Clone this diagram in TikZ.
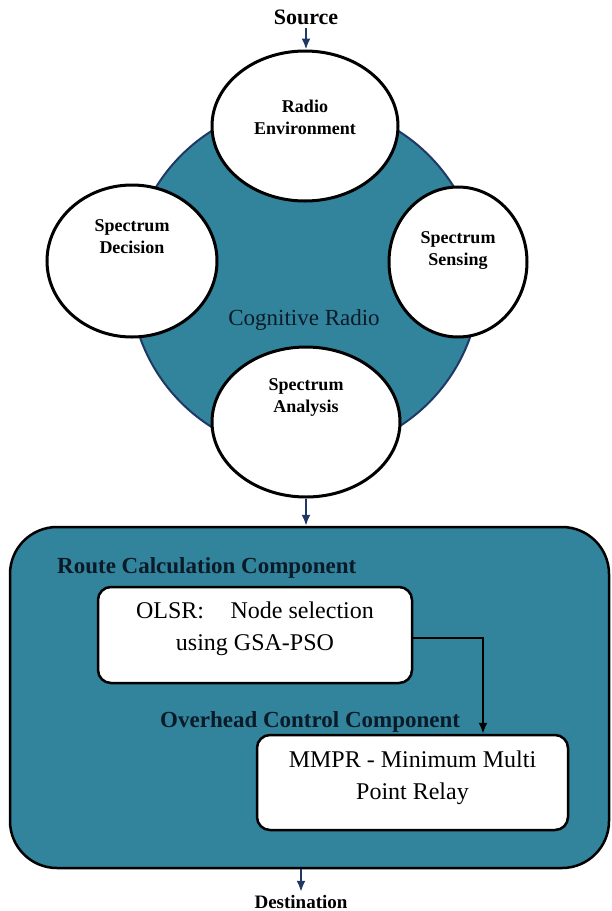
\documentclass[tikz,border=0pt]{standalone}
\usepackage{fontspec}
\setmainfont{Liberation Serif}
\usepackage{tikz}
\usetikzlibrary{shapes,arrows.meta,positioning,calc}
\definecolor{crteal}{HTML}{31849B}
\definecolor{crnavy}{HTML}{1F3864}
\definecolor{crdark}{HTML}{0B1A28}
\tikzstyle{stage} = [ellipse, draw=black, line width=3pt, fill=white, inner sep=0pt]
\tikzstyle{stagetext} = [align=center, font=\fontsize{18}{22}\selectfont\bfseries]
\tikzstyle{block} = [rectangle, draw=black, line width=2.5pt, rounded corners=13pt,
    fill=white, align=center, inner sep=0pt, font=\fontsize{24}{32}\selectfont]
\tikzstyle{heading} = [anchor=base west, inner sep=0pt, font=\fontsize{23}{28}\selectfont\bfseries, text=crdark]
\tikzstyle{arrow} = [-{Latex[length=11pt,width=9pt]}, line width=2pt, crnavy]

\begin{document}
\begin{tikzpicture}[x=1pt,y=-1pt]
\useasboundingbox (0,0) rectangle (611,911);
% cognitive radio cycle
\node[circle, draw=crnavy, line width=2pt, fill=crteal, minimum size=350pt] (cr) at (305,279) {};
\node[font=\fontsize{23}{28}\selectfont, text=crdark] (crlabel) at (304,320) {Cognitive Radio};

\node[stage, minimum width=186pt, minimum height=150pt] (env) at (305,126) {};
\node[stage, minimum width=170pt, minimum height=152pt] (dec) at (132,261) {};
\node[stage, minimum width=138pt, minimum height=150pt] (sen) at (458,262) {};
\node[stage, minimum width=188pt, minimum height=150pt] (ana) at (306,422) {};

\node[stagetext] (envtext) at ($(env)+(0,-8.5)$) {Radio\\Environment};
\node[stagetext] (dectext) at ($(dec)+(0,-24.5)$) {Spectrum\\Decision};
\node[stagetext] (sentext) at ($(sen)+(0,-11)$) {Spectrum\\Sensing};
\node[stagetext] (anatext) at ($(ana)+(0,-24.5)$) {Spectrum\\Analysis};

\node[font=\fontsize{22}{26}\selectfont\bfseries] (src) at (306,17) {Source};
\draw[arrow] (src.south) -- (src.south |- env.north);

% routing part
\node[rectangle, draw=black, line width=2.5pt, rounded corners=47pt, fill=crteal,
    minimum width=599pt, minimum height=341pt] (rcc) at (309.5,697.5) {};
\draw[arrow] (ana.south) -- (ana.south |- rcc.north);

\node[heading] (rcctitle) at (57,573) {Route Calculation Component};
\node[block, minimum width=314pt, minimum height=96pt] (olsr) at (255,635)
    {OLSR:\hspace{1.1em}Node selection\\using GSA-PSO\rule[-17pt]{0pt}{0pt}};

\node[heading] (occtitle) at (160,727) {Overhead Control Component};
\node[block, minimum width=311pt, minimum height=95pt] (mmpr) at (412.5,782.5)
    {MMPR - Minimum Multi\\Point Relay\rule[-15pt]{0pt}{0pt}};
\draw[arrow, black] ([yshift=-3pt]olsr.east) -| ($(mmpr.north)+(70.5,0)$);

\node[font=\fontsize{19}{23}\selectfont\bfseries] (dst) at (301,902) {Destination};
\draw[arrow] (dst.north |- rcc.south) -- (dst.north);
\end{tikzpicture}
\end{document}
